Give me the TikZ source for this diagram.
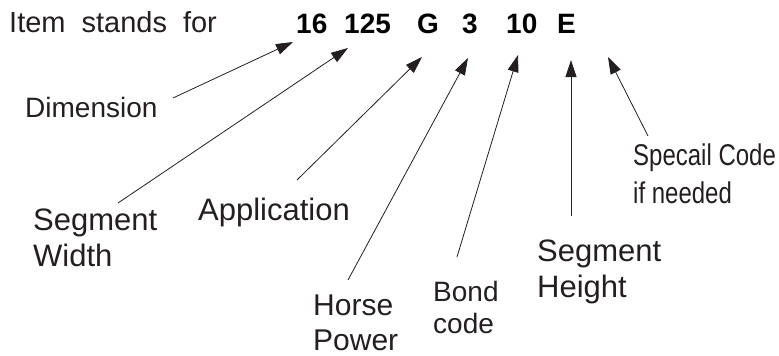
\documentclass[tikz,border=0pt]{standalone}
\usepackage{fontspec}
\setmainfont{Liberation Sans}
\newfontfamily\narrowfont[FakeStretch=0.8]{Liberation Sans}
\usetikzlibrary{arrows.meta}
\definecolor{ink}{RGB}{35,31,32}
\tikzset{
  lbl/.style={anchor=base west, inner sep=0pt, align=left, text=ink},
  code/.style={anchor=base west, inner sep=0pt, text=black, font=\fontsize{28}{34}\selectfont\bfseries},
  arr/.style={draw=ink, line width=0.8pt, -{Triangle[length=17pt,width=11pt]}}
}
\begin{document}
\begin{tikzpicture}[x=1pt,y=-1pt]
\useasboundingbox (0,0) rectangle (779,356);
% title and code
\node[lbl, font=\fontsize{29}{34}\selectfont] (title) at (9,32) {\spaceskip=16pt Item stands for};
\node[code] (c16) at (296,33) {16};
\node[code] (c125) at (344,33) {125};
\node[code] (cG) at (417,33) {G};
\node[code] (c3) at (462,33) {3};
\node[code] (c10) at (506,33) {10};
\node[code] (cE) at (557,33) {E};
% labels (base = baseline of the last line)
\node[lbl, font=\fontsize{28}{34}\selectfont] (dim) at (25,117) {Dimension};
\node[lbl, font=\fontsize{31}{36}\selectfont] (segw) at (33,266) {Segment\\Width};
\node[lbl, font=\fontsize{31}{36}\selectfont] (app) at (198,220) {Application};
\node[lbl, font=\fontsize{30}{35}\selectfont] (hp) at (313,350) {Horse\\Power};
\node[lbl, font=\fontsize{28}{32}\selectfont] (bond) at (433,333) {Bond\\code};
\node[lbl, font=\fontsize{31}{36}\selectfont] (segh) at (537,297) {Segment\\Height};
\node[lbl, font=\fontsize{30}{38}\narrowfont] (spec) at (633,203) {Specail Code\\if needed};
% connector ends
\coordinate (dimT) at (173,98);   \coordinate (dimH) at (293,42);
\coordinate (segwT) at (118,203); \coordinate (segwH) at (348,48);
\coordinate (appT) at (297,180);  \coordinate (appH) at (422,57);
\coordinate (hpT) at (348,280);   \coordinate (hpH) at (468,58);
\coordinate (bondT) at (457,257); \coordinate (bondH) at (518,55);
\coordinate (seghT) at (571,216); \coordinate (seghH) at (571,60);
\coordinate (specT) at (648,136); \coordinate (specH) at (608,57);
\draw[arr] (dimT) -- (dimH);
\draw[arr] (segwT) -- (segwH);
\draw[arr] (appT) -- (appH);
\draw[arr] (hpT) -- (hpH);
\draw[arr] (bondT) -- (bondH);
\draw[arr] (seghT) -- (seghH);
\draw[arr] (specT) -- (specH);
\end{tikzpicture}
\end{document}
